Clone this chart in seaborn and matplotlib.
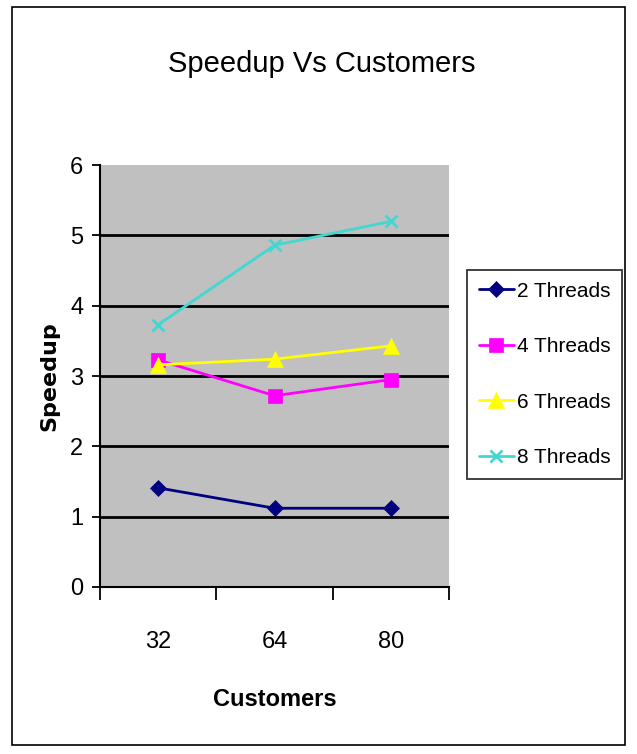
import matplotlib
matplotlib.use("Agg")
import matplotlib.pyplot as plt
from matplotlib.patches import Rectangle
import seaborn as sns
import pandas as pd

customers = ["32", "64", "80"]
series_names = ["2 Threads", "4 Threads", "6 Threads", "8 Threads"]
threads2 = [1.41, 1.12, 1.12]
threads4 = [3.23, 2.72, 2.95]
threads6 = [3.16, 3.24, 3.43]
threads8 = [3.73, 4.86, 5.20]
y_ticks = [0, 1, 2, 3, 4, 5, 6]

colors = ["#000080", "#FF00FF", "#FFFF00", "#40D8D0"]
markers = ["D", "s", "^", "x"]
msizes = [8, 10, 11, 8]

sns.set_theme(style="white")
FAM = ["Liberation Sans", "DejaVu Sans"]
plt.rcParams["font.family"] = FAM

rows = []
for name, vals in zip(series_names, [threads2, threads4, threads6, threads8]):
    for c, v in zip(customers, vals):
        rows.append({"Customers": c, "Speedup": v, "Series": name})
df = pd.DataFrame(rows)

fig = plt.figure(figsize=(6.37, 7.54), dpi=100)
fig.patch.set_facecolor("white")
ax = fig.add_axes([0.157, 0.2215, 0.548, 0.5595])
ax.set_facecolor("#C0C0C0")

for name, col, mk, ms in zip(series_names, colors, markers, msizes):
    sub = df[df["Series"] == name]
    sns.lineplot(data=sub, x="Customers", y="Speedup", ax=ax, color=col,
                 marker=mk, markersize=ms, markeredgecolor=col,
                 markeredgewidth=2 if mk == "x" else 0.5,
                 linewidth=2, label=name, sort=False)

ax.set_xlim(-0.5, 2.5)
ax.set_ylim(0, 6)
ax.set_yticks(y_ticks)
ax.set_yticklabels([str(t) for t in y_ticks], fontsize=17, color="black")
ax.set_xticks(range(len(customers)))
ax.set_xticklabels(customers, fontsize=17, color="black")
ax.tick_params(axis="x", which="major", length=0, pad=32)
ax.set_xticks([-0.5, 0.5, 1.5, 2.5], minor=True)
ax.tick_params(axis="x", which="minor", bottom=True, length=9, width=1.3,
               color="black", direction="out")
ax.tick_params(axis="y", which="major", left=True, length=6, width=1.3,
               color="black", direction="out", pad=6)

ax.grid(False)
for t in y_ticks[1:-1]:
    ax.axhline(t, color="black", linewidth=2, zorder=0.5)

for s in ["top", "right"]:
    ax.spines[s].set_visible(False)
ax.spines["left"].set_color("black")
ax.spines["left"].set_linewidth(1.5)
ax.spines["bottom"].set_color("black")
ax.spines["bottom"].set_linewidth(1.5)

ax.set_xlabel("Customers", fontsize=17, fontweight="bold", labelpad=25, color="black")
ax.set_ylabel("Speedup", fontsize=16, fontweight="bold", labelpad=8,
              family=["DejaVu Sans"], color="black")
fig.text(322 / 637, 1 - 64 / 754, "Speedup Vs Customers", fontsize=21,
         ha="center", va="center", color="black")

leg = ax.legend(loc="center left", bbox_to_anchor=(1.052, 0.504), frameon=True,
                fontsize=15, handlelength=1.7, labelspacing=1.75, borderpad=0.55,
                handletextpad=0.15, borderaxespad=0)
for txt in leg.get_texts():
    txt.set_color("black")
leg.get_frame().set_edgecolor("black")
leg.get_frame().set_linewidth(1.3)
leg.get_frame().set_facecolor("white")
leg.get_frame().set_boxstyle("square", pad=0)

fig.patches.append(Rectangle((12 / 637, 1 - 745 / 754), (625 - 12) / 637, (745 - 7) / 754,
                             transform=fig.transFigure, fill=False, edgecolor="black",
                             linewidth=1.2))

fig.savefig("out.png", dpi=100)
